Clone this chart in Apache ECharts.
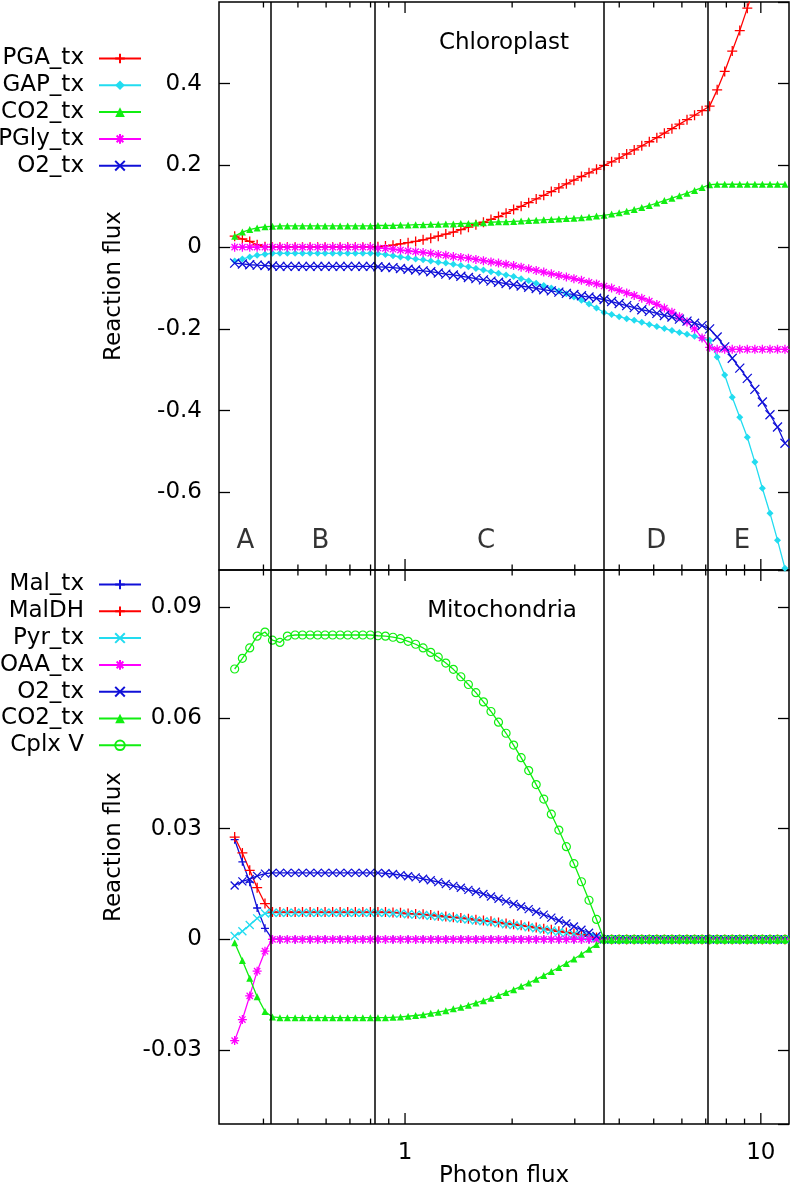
<!DOCTYPE html>
<html>
<head>
<meta charset="utf-8">
<script src="https://cdn.jsdelivr.net/npm/echarts@6.0.0/dist/echarts.min.js"></script>
<style>
html,body{margin:0;padding:0;background:#fff;}
#chart{width:793px;height:1189px;}
</style>
</head>
<body>
<div id="chart"></div>
<script>
// ---------- DATA ----------
const xValues = [
  0.332,0.349,0.366,0.384,0.404,0.424,0.445,0.467,0.491,0.515,
  0.541,0.568,0.596,0.626,0.657,0.690,0.725,0.761,0.799,0.839,
  0.881,0.925,0.971,1.020,1.071,1.124,1.181,1.240,1.302,1.367,
  1.435,1.507,1.582,1.661,1.744,1.831,1.923,2.019,2.120,2.226,
  2.337,2.454,2.577,2.706,2.841,2.983,3.132,3.289,3.453,3.626,
  3.807,3.998,4.197,4.407,4.628,4.859,5.102,5.357,5.625,5.906,
  6.202,6.512,6.837,7.179,7.538,7.915,8.311,8.726,9.162,9.621,
  10.10,10.61,11.14,11.69
];

// Chloroplast panel
const pgaTx = [
  0.027,0.020,0.014,0.006,0.001,0,0,0,0,0,
  0,0,0,0,0,0,0,0,0,0.001,
  0.003,0.005,0.008,0.011,0.014,0.018,0.022,0.027,0.032,0.037,
  0.043,0.049,0.055,0.061,0.068,0.075,0.083,0.092,0.100,0.109,
  0.118,0.127,0.136,0.145,0.155,0.164,0.173,0.182,0.191,0.200,
  0.209,0.218,0.228,0.238,0.248,0.258,0.268,0.279,0.290,0.301,
  0.312,0.323,0.334,0.345,0.385,0.430,0.480,0.530,0.585,0.640,
  0.700,0.760,0.820,0.880
];
const gapTx = [
  -0.034,-0.029,-0.024,-0.020,-0.017,-0.015,-0.015,-0.015,-0.015,-0.015,
  -0.015,-0.015,-0.015,-0.015,-0.015,-0.015,-0.015,-0.015,-0.015,-0.016,
  -0.018,-0.021,-0.024,-0.026,-0.029,-0.031,-0.034,-0.037,-0.039,-0.042,
  -0.045,-0.048,-0.052,-0.056,-0.060,-0.064,-0.068,-0.072,-0.077,-0.082,
  -0.088,-0.094,-0.100,-0.107,-0.114,-0.122,-0.130,-0.139,-0.149,-0.160,
  -0.165,-0.170,-0.175,-0.179,-0.184,-0.189,-0.194,-0.199,-0.204,-0.209,
  -0.213,-0.218,-0.223,-0.228,-0.269,-0.313,-0.367,-0.416,-0.465,-0.526,
  -0.590,-0.651,-0.717,-0.786
];
const co2TxChl = [
  0.027,0.037,0.043,0.047,0.050,0.051,0.052,0.052,0.052,0.052,
  0.052,0.052,0.052,0.052,0.052,0.052,0.052,0.052,0.052,0.053,
  0.053,0.053,0.054,0.054,0.055,0.055,0.056,0.056,0.057,0.057,
  0.058,0.058,0.059,0.060,0.061,0.062,0.062,0.063,0.064,0.065,
  0.066,0.067,0.068,0.069,0.070,0.071,0.072,0.074,0.076,0.078,
  0.081,0.084,0.088,0.092,0.097,0.102,0.108,0.114,0.120,0.126,
  0.132,0.139,0.146,0.153,0.154,0.154,0.154,0.154,0.154,0.154,
  0.154,0.154,0.154,0.154
];
const pglyTx = [
  0,0,0,0,0,0,0,0,0,0,
  0,0,0,0,0,0,0,0,0,-0.002,
  -0.003,-0.005,-0.007,-0.009,-0.011,-0.013,-0.015,-0.018,-0.020,-0.023,
  -0.025,-0.027,-0.030,-0.033,-0.036,-0.039,-0.042,-0.045,-0.049,-0.053,
  -0.057,-0.061,-0.065,-0.069,-0.073,-0.077,-0.081,-0.086,-0.090,-0.095,
  -0.100,-0.106,-0.112,-0.118,-0.125,-0.132,-0.140,-0.149,-0.159,-0.170,
  -0.183,-0.200,-0.222,-0.245,-0.250,-0.250,-0.250,-0.250,-0.250,-0.250,
  -0.250,-0.250,-0.250,-0.250
];
const o2TxChl = [
  -0.039,-0.041,-0.043,-0.044,-0.045,-0.046,-0.047,-0.047,-0.047,-0.047,
  -0.047,-0.047,-0.047,-0.047,-0.047,-0.047,-0.047,-0.047,-0.047,-0.048,
  -0.049,-0.050,-0.052,-0.054,-0.056,-0.058,-0.060,-0.063,-0.066,-0.068,
  -0.071,-0.074,-0.077,-0.080,-0.083,-0.086,-0.089,-0.092,-0.095,-0.098,
  -0.101,-0.104,-0.107,-0.110,-0.113,-0.116,-0.119,-0.122,-0.125,-0.128,
  -0.133,-0.138,-0.143,-0.148,-0.153,-0.157,-0.162,-0.167,-0.171,-0.176,
  -0.181,-0.186,-0.192,-0.200,-0.220,-0.244,-0.272,-0.296,-0.321,-0.348,
  -0.379,-0.410,-0.440,-0.480
];

// Mitochondria panel
const malTx = [
  0.027,0.021,0.0155,0.0085,0.003,0,0,0,0,0,
  0,0,0,0,0,0,0,0,0,0,
  0,0,0,0,0,0,0,0,0,0,
  0,0,0,0,0,0,0,0,0,0,
  0,0,0,0,0,0,0,0,0,0,
  0,0,0,0,0,0,0,0,0,0,
  0,0,0,0,0,0,0,0,0,0,
  0,0,0,0
];
const malDH = [
  0.0277,0.0234,0.0187,0.0140,0.0097,0.0074,0.0074,0.0074,0.0074,0.0074,
  0.0074,0.0074,0.0074,0.0074,0.0074,0.0074,0.0074,0.0074,0.0074,0.0074,
  0.0074,0.0073,0.0072,0.0070,0.0069,0.0068,0.0066,0.0064,0.0062,0.0060,
  0.0058,0.0056,0.0053,0.0051,0.0049,0.0046,0.0043,0.0041,0.0038,0.0035,
  0.0032,0.0029,0.0026,0.0022,0.0019,0.0016,0.0013,0.0009,0.0005,0,
  0,0,0,0,0,0,0,0,0,0,
  0,0,0,0,0,0,0,0,0,0,
  0,0,0,0
];
const pyrTx = [
  0.0009,0.0022,0.0039,0.0057,0.0070,0.0072,0.0072,0.0072,0.0072,0.0072,
  0.0072,0.0072,0.0072,0.0072,0.0072,0.0072,0.0072,0.0072,0.0072,0.0072,
  0.0072,0.0071,0.0070,0.0068,0.0067,0.0066,0.0064,0.0062,0.0060,0.0058,
  0.0056,0.0054,0.0051,0.0049,0.0047,0.0044,0.0041,0.0039,0.0036,0.0033,
  0.0030,0.0027,0.0024,0.0020,0.0017,0.0014,0.0011,0.0007,0.0004,0,
  0,0,0,0,0,0,0,0,0,0,
  0,0,0,0,0,0,0,0,0,0,
  0,0,0,0
];
const oaaTx = [
  -0.0274,-0.0217,-0.0153,-0.0086,-0.0032,0,0,0,0,0,
  0,0,0,0,0,0,0,0,0,0,
  0,0,0,0,0,0,0,0,0,0,
  0,0,0,0,0,0,0,0,0,0,
  0,0,0,0,0,0,0,0,0,0,
  0,0,0,0,0,0,0,0,0,0,
  0,0,0,0,0,0,0,0,0,0,
  0,0,0,0
];
const o2TxMit = [
  0.0146,0.0157,0.0163,0.0172,0.0178,0.0180,0.0180,0.0180,0.0180,0.0180,
  0.0180,0.0180,0.0180,0.0180,0.0180,0.0180,0.0180,0.0180,0.0180,0.0180,
  0.0179,0.0177,0.0174,0.0171,0.0168,0.0164,0.0160,0.0155,0.0150,0.0145,
  0.0140,0.0134,0.0129,0.0123,0.0116,0.0110,0.0103,0.0096,0.0089,0.0082,
  0.0075,0.0067,0.0059,0.0051,0.0043,0.0035,0.0026,0.0018,0.0009,0,
  0,0,0,0,0,0,0,0,0,0,
  0,0,0,0,0,0,0,0,0,0,
  0,0,0,0
];
const co2TxMit = [
  -0.0009,-0.0057,-0.0105,-0.0155,-0.0195,-0.0210,-0.0212,-0.0212,-0.0212,-0.0212,
  -0.0212,-0.0212,-0.0212,-0.0212,-0.0212,-0.0212,-0.0212,-0.0212,-0.0212,-0.0212,
  -0.0212,-0.0211,-0.0210,-0.0208,-0.0206,-0.0204,-0.0200,-0.0197,-0.0193,-0.0188,
  -0.0184,-0.0178,-0.0172,-0.0166,-0.0159,-0.0152,-0.0144,-0.0136,-0.0127,-0.0118,
  -0.0108,-0.0098,-0.0087,-0.0076,-0.0065,-0.0053,-0.0040,-0.0027,-0.0014,0,
  0,0,0,0,0,0,0,0,0,0,
  0,0,0,0,0,0,0,0,0,0,
  0,0,0,0
];
const cplxV = [
  0.0732,0.0761,0.0789,0.0821,0.0832,0.0810,0.0804,0.0821,0.0824,0.0824,
  0.0824,0.0824,0.0824,0.0824,0.0824,0.0824,0.0824,0.0824,0.0824,0.0822,
  0.0821,0.0818,0.0814,0.0807,0.0799,0.0789,0.0777,0.0764,0.0748,0.0731,
  0.0711,0.0690,0.0668,0.0643,0.0617,0.0588,0.0558,0.0526,0.0492,0.0457,
  0.0419,0.0380,0.0339,0.0296,0.0251,0.0205,0.0156,0.0106,0.0054,0,
  0,0,0,0,0,0,0,0,0,0,
  0,0,0,0,0,0,0,0,0,0,
  0,0,0,0
];

// Region boundaries and labels
const regionBounds = [0.421, 0.820, 3.61, 7.09];
const regionNames = ['A', 'B', 'C', 'D', 'E'];
const regionLabelX = [0.356, 0.578, 1.69, 5.08, 8.85];
const regionLabelY = -0.72;

// Axis tick marks (log x axis)
const xTickValues = [0.4,0.5,0.6,0.7,0.8,0.9,1,2,3,4,5,6,7,8,9,10];
const xMajorTicks = [1, 10];

const panelTitles = ['Chloroplast', 'Mitochondria'];
const xAxisName = 'Photon flux';
const yAxisName = 'Reaction flux';

// ---------- STYLE ----------
const FONT = 'DejaVu Sans';
const RED = '#ff0000', CYAN = '#22dcf0', GREEN = '#11ee11', MAGENTA = '#ff00ff', BLUE = '#1010d8';
const SYM_PLUS = 'path://M0,5H10M5,0V10';
const SYM_X = 'path://M0,0L10,10M10,0L0,10';
const SYM_STAR = 'path://M0,5H10M5,0V10M1.5,1.5L8.5,8.5M8.5,1.5L1.5,8.5';

function pairs(ys) { return xValues.map((x, i) => [x, ys[i]]); }

function lineSeries(name, ys, color, symbol, size, stroke, grid, open) {
  let itemStyle;
  if (open) itemStyle = { color: 'rgba(0,0,0,0)', borderColor: color, borderWidth: 1.2 };
  else if (stroke) itemStyle = { color: color, borderColor: color, borderWidth: 1.3 };
  else itemStyle = { color: color, borderWidth: 0 };
  return {
    type: 'line', name: name,
    xAxisIndex: grid, yAxisIndex: grid * 2,
    data: pairs(ys),
    symbol: symbol, symbolSize: size, showSymbol: true, showAllSymbol: true,
    lineStyle: { color: color, width: 1.3 },
    itemStyle: itemStyle,
    emphasis: { disabled: true },
    animation: false,
    clip: true
  };
}

const topSeries = [
  lineSeries('PGA_tx', pgaTx, RED, SYM_PLUS, 10, true, 0),
  lineSeries('GAP_tx', gapTx, CYAN, 'diamond', 7, false, 0),
  lineSeries('CO2_tx', co2TxChl, GREEN, 'triangle', 7, false, 0),
  lineSeries('PGly_tx', pglyTx, MAGENTA, SYM_STAR, 9, true, 0),
  lineSeries('O2_tx', o2TxChl, BLUE, SYM_X, 9, true, 0)
];
const botSeries = [
  lineSeries('Mal_tx', malTx, BLUE, SYM_PLUS, 8, true, 1),
  lineSeries('MalDH', malDH, RED, SYM_PLUS, 10, true, 1),
  lineSeries('Pyr_tx', pyrTx, CYAN, SYM_X, 8, true, 1),
  lineSeries('OAA_tx', oaaTx, MAGENTA, SYM_STAR, 9, true, 1),
  lineSeries('O2_tx\u200b', o2TxMit, BLUE, SYM_X, 8, true, 1),
  lineSeries('CO2_tx\u200b', co2TxMit, GREEN, 'triangle', 7, false, 1),
  lineSeries('Cplx V', cplxV, GREEN, 'circle', 8, false, 1, true)
];

const markLineDef = {
  silent: true, symbol: 'none', animation: false,
  label: { show: false },
  lineStyle: { color: '#000', width: 1.5, type: 'solid' },
  emphasis: { disabled: true },
  data: regionBounds.map(v => ({ xAxis: v }))
};
topSeries[0].markLine = markLineDef;
botSeries[0].markLine = JSON.parse(JSON.stringify(markLineDef));

function tickSeries(grid) {
  return {
    type: 'custom', xAxisIndex: grid, yAxisIndex: grid * 2, silent: true, animation: false,
    data: xTickValues.map(v => [v, 0]),
    renderItem: function (params, api) {
      const v = api.value(0);
      const len = xMajorTicks.indexOf(v) >= 0 ? 11 : 5.5;
      const cs = params.coordSys;
      const x = api.coord([v, 0])[0];
      const st = { stroke: '#000', lineWidth: 1.3 };
      return { type: 'group', children: [
        { type: 'line', shape: { x1: x, y1: cs.y + cs.height, x2: x, y2: cs.y + cs.height - len }, style: st },
        { type: 'line', shape: { x1: x, y1: cs.y, x2: x, y2: cs.y + len }, style: st }
      ]};
    }
  };
}

const regionLabelSeries = {
  type: 'scatter', xAxisIndex: 0, yAxisIndex: 0, silent: true, animation: false,
  symbolSize: 0,
  data: regionNames.map((n, i) => ({ name: n, value: [regionLabelX[i], regionLabelY] })),
  label: { show: true, position: 'inside', formatter: '{b}', fontSize: 26, fontFamily: FONT, color: '#000' }
};

// legends: one per entry, right-aligned text with sample on the right
const legends = [];
function addLegends(series, firstCenter) {
  series.forEach((s, i) => {
    legends.push({
      data: [s.name], right: 651, top: firstCenter - 11 + i * 26.8,
      orient: 'horizontal', align: 'right', padding: 0,
      itemWidth: 42, itemHeight: 12, selectedMode: false,
      formatter: n => n.replace('\u200b', ''),
      textStyle: { fontSize: 23, fontFamily: FONT, color: '#000', lineHeight: 22, padding: [0, 10, 0, 0] }
    });
  });
}
addLegends(topSeries, 58);
addLegends(botSeries, 584);

const tickLabelStyle = { fontSize: 23, fontFamily: FONT, color: '#000' };
function yAxes(grid, min, max, split) {
  return [
    {
      type: 'value', gridIndex: grid, min: min, max: max, splitNumber: split,
      axisLine: { show: false }, splitLine: { show: false },
      axisTick: { inside: true, length: 11, lineStyle: { color: '#000', width: 1.3 } },
      axisLabel: Object.assign({ margin: 17, showMinLabel: false, showMaxLabel: false }, tickLabelStyle),
      name: yAxisName, nameLocation: 'middle', nameGap: 93, nameRotate: 90,
      nameTextStyle: { fontSize: 23, fontFamily: FONT, color: '#000' }
    },
    {
      type: 'value', gridIndex: grid, position: 'right', min: min, max: max, splitNumber: split,
      axisLine: { show: false }, splitLine: { show: false },
      axisTick: { inside: true, length: 11, lineStyle: { color: '#000', width: 1.3 } },
      axisLabel: { show: false }
    }
  ];
}

const option = {
  animation: false,
  backgroundColor: '#fff',
  grid: [
    { left: 219, top: 2, width: 570, height: 568, show: true, borderColor: '#000', borderWidth: 1.5, backgroundColor: 'rgba(0,0,0,0)' },
    { left: 219, top: 570, width: 570, height: 570, show: true, borderColor: '#000', borderWidth: 1.5, backgroundColor: 'rgba(0,0,0,0)' }
  ],
  xAxis: [
    { type: 'log', logBase: 10, gridIndex: 0, min: 0.3, max: 12,
      axisLine: { show: false }, axisTick: { show: false }, axisLabel: { show: false }, splitLine: { show: false } },
    { type: 'log', logBase: 10, gridIndex: 1, min: 0.3, max: 12,
      axisLine: { show: false }, axisTick: { show: false }, splitLine: { show: false },
      axisLabel: Object.assign({ margin: 17, formatter: v => (Math.abs(v - 1) < 1e-9 ? '1' : (Math.abs(v - 10) < 1e-9 ? '10' : '')) }, tickLabelStyle),
      name: xAxisName, nameLocation: 'middle', nameGap: 27,
      nameTextStyle: { fontSize: 23, fontFamily: FONT, color: '#000' } }
  ],
  yAxis: yAxes(0, -0.79, 0.6, 7).concat(yAxes(1, -0.05, 0.1, 5)),
  legend: legends,
  graphic: [
    { type: 'text', x: 504, y: 43, silent: true,
      style: { text: panelTitles[0], font: '23px "DejaVu Sans"', fill: '#000', textAlign: 'center', textVerticalAlign: 'middle' } },
    { type: 'text', x: 502, y: 611, silent: true,
      style: { text: panelTitles[1], font: '23px "DejaVu Sans"', fill: '#000', textAlign: 'center', textVerticalAlign: 'middle' } }
  ],
  series: topSeries.concat(botSeries, [tickSeries(0), tickSeries(1), regionLabelSeries])
};

const chart = echarts.init(document.getElementById('chart'), null, { renderer: 'canvas' });
chart.setOption(option);
</script>
</body>
</html>
